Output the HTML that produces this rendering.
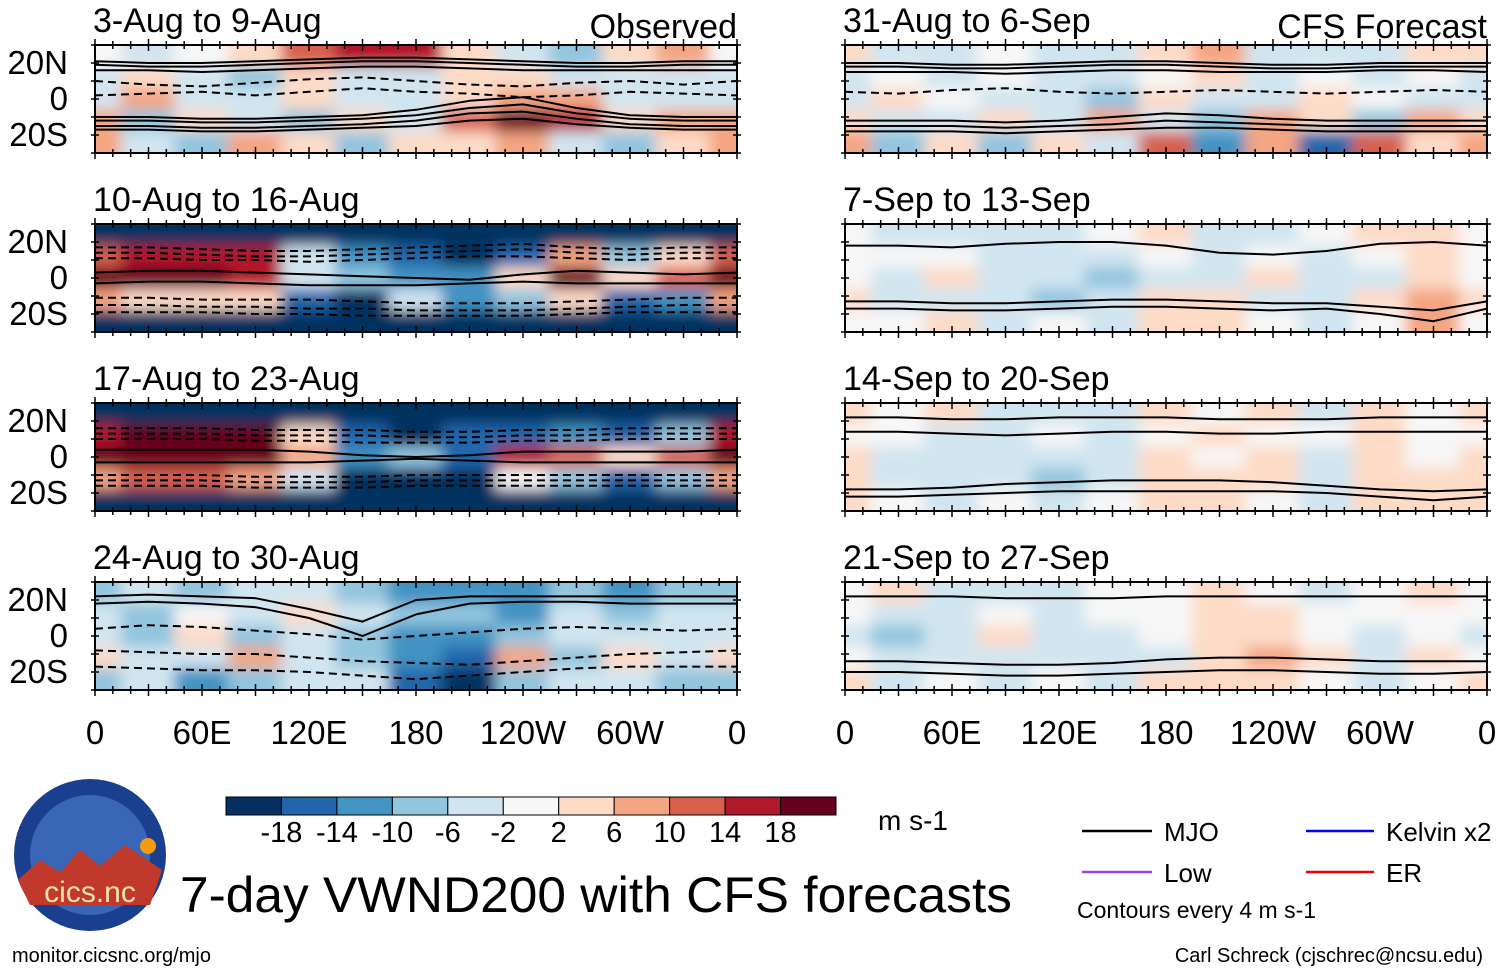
<!DOCTYPE html>
<html><head><meta charset="utf-8"><style>
body{margin:0;background:#fff}
svg{display:block;font-family:"Liberation Sans",Arial,sans-serif}
</style></head><body>
<svg id="s" width="1501" height="972" viewBox="0 0 1501 972">
<defs><filter id="bl" x="-5%" y="-20%" width="110%" height="140%"><feGaussianBlur stdDeviation="7"/></filter></defs>
<g id="panels"></g>
<g id="labels" font-size="32" fill="#000"></g>
<g id="cbar"></g>
<text x="878" y="830" font-size="28">m s-1</text>
<g>
<circle cx="90" cy="855" r="76" fill="#1a3f8f"/>
<circle cx="90" cy="855" r="60" fill="#3a66b8"/>
<path d="M18 880 L40 860 L60 872 L80 850 L100 866 L125 845 L162 870 L150 905 L30 905Z" fill="#c0392b"/>
<circle cx="148" cy="846" r="8" fill="#f39c12"/>
<text x="90" y="902" font-size="30" fill="#f0e0b0" text-anchor="middle">cics.nc</text>
</g>
<text x="180" y="912" font-size="50" textLength="832" lengthAdjust="spacingAndGlyphs">7-day VWND200 with CFS forecasts</text>
<text x="12" y="962" font-size="20">monitor.cicsnc.org/mjo</text>
<text x="1483" y="962" font-size="20" text-anchor="end">Carl Schreck (cjschrec@ncsu.edu)</text>
<g font-size="26">
<line x1="1082" y1="831" x2="1152" y2="831" stroke="#000" stroke-width="2.5"/><text x="1164" y="841">MJO</text>
<line x1="1306" y1="831" x2="1374" y2="831" stroke="#00f" stroke-width="2.5"/><text x="1386" y="841">Kelvin x2</text>
<line x1="1082" y1="872" x2="1152" y2="872" stroke="#a040e0" stroke-width="2.5"/><text x="1164" y="882">Low</text>
<line x1="1306" y1="872" x2="1374" y2="872" stroke="#e00" stroke-width="2.5"/><text x="1386" y="882">ER</text>
<text x="1077" y="918" font-size="23">Contours every 4 m s-1</text>
</g>
</svg>
<script>
const NS="http://www.w3.org/2000/svg";
const colors=["#053061","#2166ac","#4393c3","#92c5de","#d1e5f0","#f7f7f7","#fddbc7","#f4a582","#d6604d","#b2182b","#67001f"];
const bounds=[-18,-14,-10,-6,-2,2,6,10,14,18];
const titles=["3-Aug to 9-Aug","10-Aug to 16-Aug","17-Aug to 23-Aug","24-Aug to 30-Aug","31-Aug to 6-Sep","7-Sep to 13-Sep","14-Sep to 20-Sep","21-Sep to 27-Sep"];
const xTicks=["0","60E","120E","180","120W","60W","0"];
const yTicks=["20N","0","20S"];
const yTickLats=[20,0,-20];
const gridLats=[24,12,0,-12,-24];
// value grids: rows = 24N,12N,0,12S,24S ; cols = 0..330E step 30
const grids=[
[[2,-4,0,6,14,18,16,4,-2,-6,4,8],[-3,4,-4,-7,3,-4,-3,3,3,-4,-3,-4],[-3,7,-4,-3,4,-4,-3,3,8,10,-3,-4],[7,-7,4,-3,-7,3,-4,12,20,16,3,7],[10,-3,-8,7,3,-7,4,3,7,-4,-8,4]],
[[-20,-20,-20,-20,-20,-20,-20,-20,-20,-20,-20,-20],[14,16,18,16,-3,-10,-16,-18,-14,10,-7,6],[20,20,20,18,-3,-7,-12,-10,4,20,3,14],[10,6,3,3,-14,-20,-4,-10,-7,3,-14,-10],[-20,-20,-20,-20,-20,-20,-20,-20,-20,-20,-20,-20]],
[[-20,-20,-20,-20,-20,-20,-20,-20,-20,-20,-20,-20],[18,20,20,20,6,-14,-18,-16,-14,-10,-16,-8],[20,20,20,20,7,-10,-7,-14,16,14,4,14],[10,14,14,10,-4,-18,-18,-18,0,-6,-14,-6],[-20,-20,-20,-20,-20,-20,-20,-20,-20,-20,-20,-20]],
[[-8,-4,-8,-3,-3,-8,-12,-10,-12,-7,-10,-7],[-4,-7,0,-4,3,-3,-8,-7,-10,-4,-8,-4],[-4,-7,3,-7,-3,-7,-12,-10,-8,-4,-3,-4],[4,-3,-4,7,-4,-7,-10,-14,7,-7,4,-3],[-7,-4,-10,-7,-3,-4,-16,-18,-7,-4,-3,-7]],
[[3,-4,-3,0,-3,-4,3,7,-4,-3,-4,3],[-3,0,-3,0,-3,-4,0,3,-3,0,-3,0],[-4,3,0,-3,-4,-7,3,-4,-3,3,0,-3],[4,-3,-4,4,-4,7,-4,-7,7,3,-7,7],[7,-8,4,-7,3,-4,12,-10,8,-14,12,4]],
[[0,-3,-4,-3,-3,0,3,-3,-3,0,3,4],[0,0,0,-3,-4,-3,0,-3,0,-3,0,3],[0,-3,3,-3,-4,-8,-4,-3,3,-4,-3,3],[3,-3,-3,-4,-7,-4,3,4,-3,-4,3,8],[0,0,3,-3,0,-3,4,3,0,-4,0,8]],
[[3,0,3,-3,-4,-3,3,0,4,-3,4,0],[0,0,-3,-3,0,-3,0,3,0,0,3,0],[3,-3,-3,-4,-3,-4,3,0,3,-3,3,0],[4,-3,-4,-3,-7,-3,4,3,4,-3,3,4],[3,0,-3,0,-3,0,3,4,0,-3,3,4]],
[[0,3,-3,-3,-4,0,0,3,0,-3,0,3],[0,-4,-3,0,-3,0,0,3,3,0,0,0],[-3,-7,-4,3,-4,-3,0,3,4,0,-3,0],[0,-4,-3,-3,-3,-4,-3,4,7,3,-3,3],[3,-3,0,-3,0,-3,3,4,3,0,-3,0]]
];
// contour latitudes at lon 0..360 step 30 ; dashed flag
const contours=[
[[0,[21,20,20,21,22,23,23,22,21,20,20,21,21]],[0,[19,18,18,19,20,21,21,20,19,18,18,19,19]],[0,[16,16,15,16,17,18,18,17,16,16,16,16,16]],[1,[10,8,7,9,11,12,10,8,7,9,10,8,10]],[1,[2,3,4,2,4,6,4,3,1,2,4,3,2]],[0,[-10,-10,-11,-11,-10,-9,-6,-1,1,-5,-9,-10,-10]],[0,[-12,-12,-13,-13,-12,-11,-9,-5,-3,-8,-11,-12,-12]],[0,[-15,-15,-16,-16,-15,-14,-12,-8,-7,-11,-14,-15,-15]],[0,[-17,-17,-18,-18,-17,-16,-15,-12,-11,-14,-16,-17,-17]]],
[[1,[17,17,16,15,15,16,17,18,19,17,16,17,17]],[1,[14,14,13,12,12,13,14,15,16,14,13,14,14]],[1,[11,11,10,10,9,10,11,12,12,11,10,11,11]],[0,[3,4,4,3,2,1,0,-1,2,4,3,2,3]],[0,[-3,-2,-2,-3,-4,-4,-4,-3,-2,-3,-3,-3,-3]],[1,[-11,-11,-12,-12,-12,-13,-14,-14,-14,-13,-12,-11,-11]],[1,[-15,-15,-16,-16,-17,-17,-18,-18,-18,-17,-16,-15,-15]],[1,[-19,-19,-19,-20,-20,-21,-21,-21,-21,-20,-19,-19,-19]]],
[[1,[16,16,16,15,15,15,14,14,15,15,16,16,16]],[1,[13,13,13,12,12,12,11,11,12,12,13,13,13]],[1,[10,10,10,9,9,8,8,8,9,9,10,10,10]],[0,[4,4,4,4,3,1,0,1,3,3,3,3,4]],[0,[-3,-3,-3,-3,-3,-2,-1,-2,-3,-3,-3,-3,-3]],[1,[-10,-10,-10,-11,-11,-11,-10,-10,-10,-10,-10,-10,-10]],[1,[-13,-13,-13,-14,-14,-14,-13,-13,-13,-13,-13,-13,-13]],[1,[-16,-16,-16,-17,-17,-17,-16,-16,-16,-16,-16,-16,-16]]],
[[0,[22,23,22,21,15,8,20,22,22,22,22,22,22]],[0,[18,19,18,16,10,0,12,18,19,19,18,18,18]],[1,[4,6,5,3,1,-2,0,2,4,5,4,3,4]],[1,[-8,-9,-10,-10,-12,-14,-15,-16,-14,-12,-10,-9,-8]],[1,[-17,-18,-19,-19,-20,-22,-24,-22,-20,-18,-17,-17,-17]]],
[[0,[20,20,19,19,20,21,21,20,19,19,20,20,20]],[0,[18,18,17,17,18,19,19,18,17,17,18,18,18]],[0,[15,15,15,14,15,16,16,15,15,15,16,16,15]],[1,[4,3,5,6,4,3,4,5,4,3,4,5,4]],[0,[-12,-12,-12,-13,-12,-10,-8,-9,-11,-12,-12,-12,-12]],[0,[-15,-15,-15,-16,-15,-14,-12,-13,-14,-15,-15,-15,-15]],[0,[-18,-18,-18,-19,-18,-17,-16,-16,-17,-18,-18,-18,-18]]],
[[0,[18,18,17,19,20,20,18,14,13,15,19,20,18]],[0,[-13,-13,-14,-14,-13,-12,-12,-13,-14,-14,-16,-18,-13]],[0,[-17,-17,-18,-18,-17,-16,-16,-17,-18,-17,-20,-24,-17]]],
[[0,[22,22,21,21,22,22,22,21,21,21,22,22,22]],[0,[14,14,13,12,13,14,14,13,13,14,14,14,14]],[0,[-18,-18,-17,-15,-14,-13,-13,-13,-14,-16,-18,-19,-18]],[0,[-22,-22,-21,-20,-19,-19,-19,-19,-19,-20,-22,-24,-22]]],
[[0,[22,22,22,21,21,21,22,22,22,22,22,22,22]],[0,[-14,-14,-15,-16,-16,-15,-13,-12,-12,-13,-14,-14,-14]],[0,[-20,-20,-21,-22,-22,-21,-20,-19,-19,-20,-21,-21,-20]]]
];
const panelsG=document.getElementById('panels');
const labelsG=document.getElementById('labels');
const PW=642,PH=108,lefts=[95,845],tops=[45,224,403,582];
function el(t,a,p){const e=document.createElementNS(NS,t);for(const k in a)e.setAttribute(k,a[k]);p.appendChild(e);return e;}
function col(v){let i=0;while(i<bounds.length&&v>bounds[i])i++;return colors[i];}
for(let p=0;p<8;p++){
  const x0=lefts[p<4?0:1],y0=tops[p%4];
  const xs=lon=>x0+lon/360*PW, ys=lat=>y0+(30-lat)/60*PH;
  const g=el('g',{},panelsG);
  
  
  el('clipPath',{id:'c'+p},g); el('rect',{x:x0,y:y0,width:PW,height:PH},g.lastChild);
  const inner=el('g',{'clip-path':'url(#c'+p+')'},g);
  const heat=el('g',{filter:'url(#bl)'},inner);
  const grid=grids[p];
  grid.forEach((row,r)=>{
    const la=gridLats[r];
    const top=r==0?ys(45):ys(la+6), bot=r==grid.length-1?ys(-45):ys(la-6);
    for(let c=-1;c<=12;c++){
      const v=row[(c+12)%12];
      const rc=el('rect',{x:xs(c*30-15)-1,y:top,width:PW/12+2,height:bot-top+1,fill:col(v)},heat);
      
      
    }
  });
  contours[p].forEach(([d,ls])=>{
    let pts=ls.map((la,i)=>xs(i*30).toFixed(1)+','+ys(la).toFixed(1));
    const pl=el('polyline',{points:pts.join(' '),fill:'none',stroke:'#000','stroke-width':2,'stroke-dasharray':d?'8,5':'none','stroke-linejoin':'round'},inner);
    
    
  });
  el('rect',{x:x0,y:y0,width:PW,height:PH,fill:'none',stroke:'#000','stroke-width':2},g);
  for(let lon=0;lon<=360;lon+=10){const X=xs(lon),L=lon%30==0?6:4;
    el('line',{x1:X,y1:y0-L,x2:X,y2:y0+L,stroke:'#000','stroke-width':1.5},g);
    el('line',{x1:X,y1:y0+PH-L,x2:X,y2:y0+PH+L,stroke:'#000','stroke-width':1.5},g);}
  for(let la=-30;la<=30;la+=10){[x0,x0+PW].forEach(X=>el('line',{x1:X-4,y1:ys(la),x2:X+4,y2:ys(la),stroke:'#000','stroke-width':1.5},g));}
  const t=el('text',{x:x0-2,y:y0-13,'font-size':34},labelsG);t.textContent=titles[p];
  
  
  if(p<4){yTicks.forEach((s,i)=>{const tt=el('text',{x:68,y:ys(yTickLats[i])+11,'text-anchor':'end','font-size':33},labelsG);tt.textContent=s;
    
    });}
}
[[737,'Observed'],[1487,'CFS Forecast']].forEach(([x,s])=>{const t=el('text',{x:x,y:38,'text-anchor':'end','font-size':34},labelsG);t.textContent=s;
  
  });
lefts.forEach(x0=>xTicks.forEach((s,i)=>{const t=el('text',{x:x0+i*PW/6,y:744,'text-anchor':'middle','font-size':33},labelsG);t.textContent=s;
  
  }));
const cb=document.getElementById('cbar');const bw=610/11;
colors.forEach((c,i)=>{const r=el('rect',{x:226+i*bw,y:797,width:bw,height:18,fill:c,stroke:'#000','stroke-width':1},cb);
  
  });
bounds.forEach((b,i)=>{const t=el('text',{x:226+(i+1)*bw,y:842,'text-anchor':'middle','font-size':29},cb);t.textContent=b;
  
  });
</script>
</body></html>
